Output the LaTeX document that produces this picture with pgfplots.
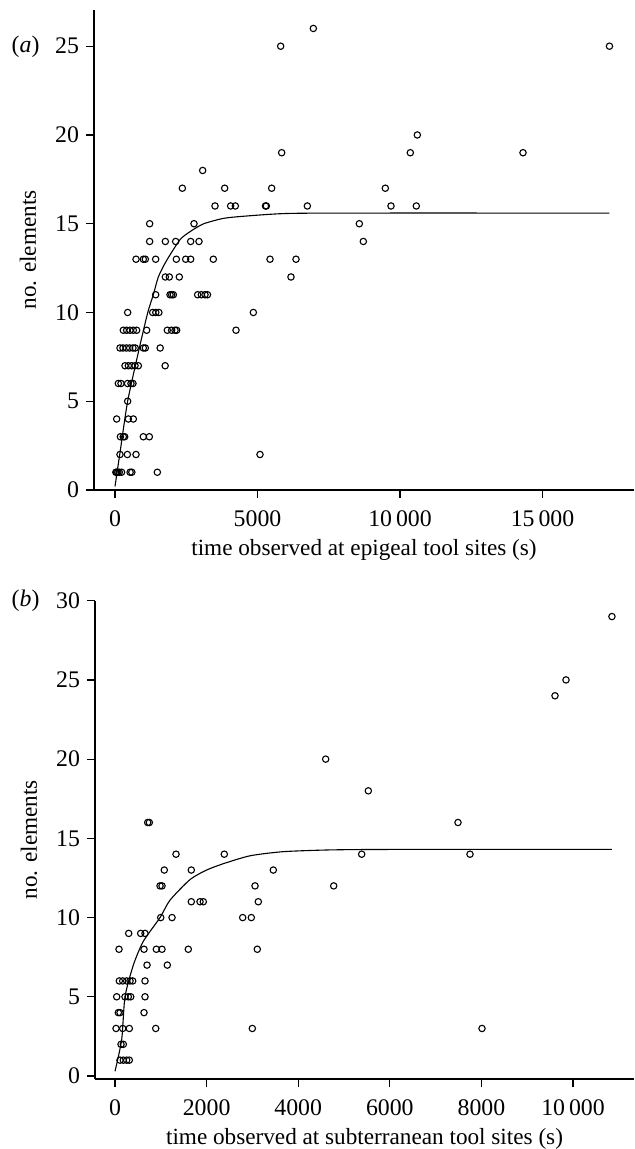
\documentclass[border=0pt]{standalone}
\usepackage{fontspec}
\setmainfont{Liberation Serif}
\usepackage{pgfplots}
\pgfplotsset{compat=1.18}

% panel (a): epigeal sites
\pgfplotstableread{
x y
30 1
60 1
100 1
150 1
230 1
530 1
590 1
1485 1
175 2
433 2
737 2
5088 2
190 3
290 3
340 3
994 3
1205 3
58 4
468 4
643 4
444 5
117 6
210 6
440 6
560 6
630 6
351 7
468 7
585 7
702 7
819 7
1760 7
175 8
280 8
400 8
515 8
630 8
710 8
994 8
1065 8
1585 8
292 9
409 9
526 9
643 9
760 9
1111 9
1836 9
1988 9
2105 9
2164 9
4246 9
444 10
1322 10
1430 10
1540 10
4854 10
1427 11
1930 11
1988 11
2047 11
2900 11
3030 11
3158 11
3245 11
1766 12
1906 12
2257 12
6175 12
737 13
994 13
1064 13
1427 13
2152 13
2480 13
2655 13
3450 13
5439 13
6351 13
1216 14
1766 14
2129 14
2655 14
2947 14
8713 14
1216 15
2772 15
8573 15
3509 16
4058 16
4222 16
5280 16
5310 16
6749 16
9684 16
10572 16
2363 17
3848 17
5497 17
9485 17
3076 18
5848 19
10362 19
14316 19
10608 20
5813 25
17350 25
6959 26
}\epigeal

\pgfplotstableread{
x y
0 0.2
175 2.1
444 5
854 8
1150 10
1345 11
1520 12
1800 12.9
2281 14.1
2632 14.55
3099 14.99
3800 15.3
4503 15.42
5900 15.57
8000 15.6
17350 15.6
}\epigealfit

% panel (b): subterranean sites
\pgfplotstableread{
x y
109 1
181 1
255 1
312 1
131 2
181 2
22 3
168 3
312 3
889 3
2998 3
8013 3
72 4
109 4
633 4
37 5
218 5
290 5
343 5
655 5
94 6
168 6
255 6
328 6
386 6
655 6
699 7
1142 7
87 8
633 8
902 8
1026 8
1600 8
3107 8
299 9
561 9
655 9
998 10
1245 10
2788 10
2976 10
1666 11
1856 11
1928 11
3129 11
983 12
1026 12
3057 12
4775 12
1076 13
1666 13
3456 13
1332 14
2386 14
5386 14
7751 14
714 16
749 16
7489 16
5531 18
4600 20
9607 24
9847 25
10850 29
}\subterr

\pgfplotstableread{
x y
0 0.3
146 2.3
218 5.0
400 7.0
618 8.5
983 10
1201 11.1
1638 12.4
2000 13.0
2365 13.4
2948 13.9
3675 14.16
4694 14.27
6000 14.3
10850 14.3
}\subterrfit

\pgfplotsset{
  panel/.style={
    scale only axis,
    axis x line*=bottom,
    axis y line*=left,
    tick align=outside,
    major tick length=4pt,
    every tick/.style={black, line width=0.6pt},
    axis line style={line width=0.65pt},
    tick label style={font=\fontsize{11.9}{14}\selectfont},
    xticklabel style={yshift=-3pt},
    scaled x ticks=false,
    /pgf/number format/assume math mode=true,
    /pgf/number format/1000 sep={\,},
    /pgf/number format/min exponent for 1000 sep=4,
    ylabel={no. elements},
    every axis y label/.style={at={(axis description cs:0,0.5)}, xshift=-33pt, rotate=90, anchor=center, font=\fontsize{11.6}{14}\selectfont},
    every axis x label/.style={at={(axis description cs:0.5,0)}, yshift=-30pt, anchor=center, font=\fontsize{11.6}{14}\selectfont},
  },
  pts/.style={only marks, mark=o, mark size=1.6pt, mark options={line width=0.55pt, black}},
  fitline/.style={black, line width=0.55pt, no marks, smooth, tension=0.4},
}

\begin{document}
\begin{tikzpicture}
\useasboundingbox (0,0) rectangle (317.5pt,-574.5pt);

\begin{axis}[panel,
  at={(47pt,-245pt)}, anchor=south west,
  width=270pt, height=240pt,
  xmin=-737, xmax=18211, ymin=0, ymax=27.04,
  xtick={0,5000,10000,15000},
  ytick={0,5,10,15,20,25},
  xlabel={time observed at epigeal tool sites (s)},
]
\addplot[pts] table[x=x, y=y] {\epigeal};
\addplot[fitline] table[x=x, y=y] {\epigealfit};
\end{axis}
\node[font=\fontsize{11.9}{14}\selectfont] at (12.8pt,-23.3pt) {(\textit{a})};

\begin{axis}[panel,
  at={(47.5pt,-539.5pt)}, anchor=south west,
  width=269.5pt, height=239.15pt,
  xmin=-437, xmax=11332, ymin=-0.19, ymax=30,
  xtick={0,2000,4000,6000,8000,10000},
  ytick={0,5,10,15,20,25,30},
  xlabel={time observed at subterranean tool sites (s)},
]
\addplot[pts] table[x=x, y=y] {\subterr};
\addplot[fitline] table[x=x, y=y] {\subterrfit};
\end{axis}
\node[font=\fontsize{11.9}{14}\selectfont] at (12.8pt,-300.3pt) {(\textit{b})};
\end{tikzpicture}
\end{document}
